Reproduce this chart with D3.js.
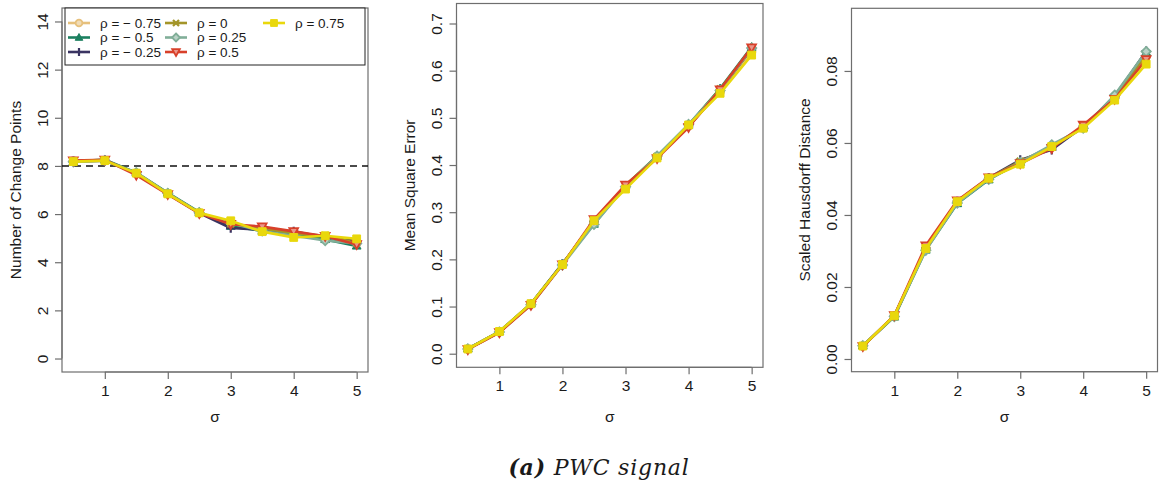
<!DOCTYPE html>
<html>
<head>
<meta charset="utf-8">
<script src="https://cdn.jsdelivr.net/npm/d3@7"></script>
<style>
  html, body { margin: 0; padding: 0; background: #fff; }
  svg { display: block; }
  text { font-family: "Liberation Sans", Arial, sans-serif; fill: #1a1a1a; }
</style>
</head>
<body>
<svg id="chart" width="1161" height="484"></svg>
<script>
// noise levels on the x axis
const sigma = [0.5, 1, 1.5, 2, 2.5, 3, 3.5, 4, 4.5, 5];

// correlation settings, one series each
const rhoLabels = ["ρ = − 0.75", "ρ = − 0.5", "ρ = − 0.25", "ρ = 0", "ρ = 0.25", "ρ = 0.5", "ρ = 0.75"];
const rhoColors = ["#E6C07C", "#1C8060", "#3A3462", "#A39529", "#80AE98", "#D8402A", "#E9D80C"];
const rhoShapes = ["circle", "triangle", "plus", "cross", "diamond", "triangleDown", "square"];

// number of detected change points (true count = 8)
const changePoints = [
  [8.20, 8.23, 7.70, 6.85, 6.05, 5.55, 5.35, 5.15, 5.05, 4.85],
  [8.18, 8.26, 7.72, 6.88, 6.08, 5.50, 5.30, 5.22, 4.95, 4.68],
  [8.19, 8.22, 7.68, 6.84, 6.04, 5.42, 5.35, 5.28, 5.05, 4.88],
  [8.20, 8.24, 7.70, 6.86, 6.05, 5.60, 5.40, 5.20, 5.10, 4.80],
  [8.17, 8.22, 7.72, 6.86, 6.06, 5.62, 5.30, 5.10, 4.90, 4.78],
  [8.22, 8.25, 7.62, 6.82, 6.03, 5.58, 5.48, 5.28, 5.08, 4.74],
  [8.18, 8.22, 7.70, 6.84, 6.05, 5.72, 5.27, 5.03, 5.10, 4.97]
];
const trueChangePoints = 8;

// mean square error
const meanSquareError = [
  [0.010, 0.046, 0.105, 0.189, 0.280, 0.352, 0.416, 0.483, 0.555, 0.640],
  [0.011, 0.047, 0.106, 0.191, 0.275, 0.356, 0.419, 0.485, 0.562, 0.650],
  [0.010, 0.046, 0.105, 0.190, 0.280, 0.355, 0.417, 0.482, 0.558, 0.647],
  [0.010, 0.047, 0.106, 0.190, 0.282, 0.357, 0.418, 0.484, 0.561, 0.646],
  [0.010, 0.046, 0.104, 0.188, 0.274, 0.354, 0.419, 0.486, 0.558, 0.648],
  [0.009, 0.045, 0.103, 0.189, 0.285, 0.358, 0.414, 0.480, 0.560, 0.649],
  [0.010, 0.047, 0.106, 0.189, 0.282, 0.349, 0.415, 0.485, 0.552, 0.633]
];

// scaled Hausdorff distance
const hausdorff = [
  [0.0036, 0.0119, 0.0306, 0.0436, 0.0502, 0.0545, 0.0588, 0.0642, 0.0725, 0.0840],
  [0.0037, 0.0117, 0.0303, 0.0432, 0.0498, 0.0547, 0.0592, 0.0643, 0.0731, 0.0852],
  [0.0036, 0.0120, 0.0308, 0.0438, 0.0503, 0.0553, 0.0581, 0.0646, 0.0728, 0.0855],
  [0.0036, 0.0119, 0.0307, 0.0437, 0.0502, 0.0549, 0.0590, 0.0644, 0.0727, 0.0845],
  [0.0037, 0.0118, 0.0302, 0.0433, 0.0499, 0.0546, 0.0595, 0.0641, 0.0733, 0.0854],
  [0.0035, 0.0121, 0.0315, 0.0440, 0.0504, 0.0543, 0.0585, 0.0650, 0.0722, 0.0832],
  [0.0036, 0.0120, 0.0307, 0.0437, 0.0502, 0.0541, 0.0590, 0.0641, 0.0719, 0.0819]
];

// tick values
const xTicks = [1, 2, 3, 4, 5];
const cpTicks = [0, 2, 4, 6, 8, 10, 12, 14];
const mseTicks = [0, 0.1, 0.2, 0.3, 0.4, 0.5, 0.6, 0.7];
const hdTicks = [0, 0.02, 0.04, 0.06, 0.08];

const svg = d3.select("#chart");
const boxColor = "#6e6e6e";
const sans = "Liberation Sans, Arial, sans-serif";

const panels = [
  { data: changePoints, yLabel: "Number of Change Points", yTicks: cpTicks, fmt: d3.format("d"),
    box: { l: 62, r: 368, t: 8, b: 372 }, yDomain: [-0.56, 14.56], refLine: trueChangePoints, legend: true },
  { data: meanSquareError, yLabel: "Mean Square Error", yTicks: mseTicks, fmt: d3.format(".1f"),
    box: { l: 456.5, r: 763, t: 3.5, b: 367.3 }, yDomain: [-0.0288, 0.7424] },
  { data: hausdorff, yLabel: "Scaled Hausdorff Distance", yTicks: hdTicks, fmt: d3.format(".2f"),
    box: { l: 851.5, r: 1157.5, t: 8.3, b: 371.7 }, yDomain: [-0.00353, 0.0974] }
];

function markerPath(shape, s) {
  switch (shape) {
    case "triangle": return `M0,${-s}L${s * 0.95},${s * 0.7}L${-s * 0.95},${s * 0.7}Z`;
    case "triangleDown": return `M0,${s}L${s * 0.95},${-s * 0.7}L${-s * 0.95},${-s * 0.7}Z`;
    case "diamond": return `M0,${-s}L${s},0L0,${s}L${-s},0Z`;
    case "square": { const h = s * 0.85; return `M${-h},${-h}H${h}V${h}H${-h}Z`; }
    case "plus": return `M${-s},0H${s}M0,${-s}V${s}`;
    case "cross": { const h = s * 0.75; return `M${-h},${-h}L${h},${h}M${h},${-h}L${-h},${h}`; }
    default: return d3.symbol(d3.symbolCircle, Math.PI * s * s * 0.7)();
  }
}

function drawMarker(g, shape, color, x, y, s) {
  const p = g.append("path").attr("d", markerPath(shape, s))
    .attr("transform", `translate(${x},${y})`);
  if (shape === "plus" || shape === "cross") {
    p.attr("fill", "none").attr("stroke", color).attr("stroke-width", 2.2);
  } else if (shape === "circle" || shape === "diamond" || shape === "triangleDown") {
    p.attr("fill", d3.interpolateRgb(color, "#ffffff")(0.45)).attr("stroke", color).attr("stroke-width", 1.8);
  } else {
    p.attr("fill", color).attr("stroke", color).attr("stroke-width", 1);
  }
}

panels.forEach(pn => {
  const { box } = pn;
  const x = d3.scaleLinear().domain([0.32, 5.18]).range([box.l, box.r]);
  const y = d3.scaleLinear().domain(pn.yDomain).range([box.b, box.t]);
  const g = svg.append("g");

  // plot frame
  g.append("rect").attr("x", box.l).attr("y", box.t)
    .attr("width", box.r - box.l).attr("height", box.b - box.t)
    .attr("fill", "none").attr("stroke", boxColor).attr("stroke-width", 1.2);

  // x axis
  const xa = g.append("g").attr("transform", `translate(0,${box.b})`)
    .call(d3.axisBottom(x).tickValues(xTicks).tickSize(7).tickSizeOuter(0).tickFormat(d3.format("d")));
  xa.select(".domain").remove();
  xa.append("line").attr("x1", x(xTicks[0])).attr("x2", x(xTicks[xTicks.length - 1]))
    .attr("stroke", boxColor).attr("stroke-width", 1.2);
  xa.selectAll(".tick line").attr("stroke", boxColor).attr("stroke-width", 1.2);
  xa.selectAll(".tick text").attr("y", 13).attr("dy", "0.71em")
    .style("font-size", "15.5px").style("font-family", sans).attr("fill", "#1a1a1a");

  // y axis with vertical labels
  const ya = g.append("g").attr("transform", `translate(${box.l},0)`)
    .call(d3.axisLeft(y).tickValues(pn.yTicks).tickSize(7).tickSizeOuter(0).tickFormat(pn.fmt));
  ya.select(".domain").remove();
  ya.append("line").attr("y1", y(pn.yTicks[0])).attr("y2", y(pn.yTicks[pn.yTicks.length - 1]))
    .attr("stroke", boxColor).attr("stroke-width", 1.2);
  ya.selectAll(".tick line").attr("stroke", boxColor).attr("stroke-width", 1.2);
  ya.selectAll(".tick text").attr("x", null).attr("dy", null)
    .attr("transform", "translate(-20,0) rotate(-90)")
    .attr("text-anchor", "middle").attr("dominant-baseline", "central")
    .style("font-size", "15.5px").style("font-family", sans).attr("fill", "#1a1a1a");

  // axis titles
  g.append("text").attr("x", (box.l + box.r) / 2).attr("y", 416)
    .attr("text-anchor", "middle").attr("dominant-baseline", "central")
    .style("font-size", "15.5px").text("σ");
  g.append("text")
    .attr("transform", `translate(${box.l - 47},${(box.t + box.b) / 2}) rotate(-90)`)
    .attr("text-anchor", "middle").attr("dominant-baseline", "central")
    .style("font-size", "15.5px").text(pn.yLabel);

  // reference line
  if (pn.refLine !== undefined) {
    g.append("line").attr("x1", box.l).attr("x2", box.r)
      .attr("y1", y(pn.refLine)).attr("y2", y(pn.refLine))
      .attr("stroke", "#111").attr("stroke-width", 1.6).attr("stroke-dasharray", "7,5");
  }

  // series
  const line = d3.line().x((d, i) => x(sigma[i])).y(d => y(d));
  pn.data.forEach((vals, k) => {
    const sg = g.append("g");
    sg.append("path").attr("d", line(vals)).attr("fill", "none")
      .attr("stroke", rhoColors[k]).attr("stroke-width", 2.6).attr("stroke-linejoin", "round");
    vals.forEach((v, i) => drawMarker(sg, rhoShapes[k], rhoColors[k], x(sigma[i]), y(v), 4.6));
  });

  // legend
  if (pn.legend) {
    const lg = g.append("g");
    lg.append("rect").attr("x", 65).attr("y", 8).attr("width", 300).attr("height", 57)
      .attr("fill", "#fff").attr("stroke", "#222").attr("stroke-width", 1);
    const colX = [68, 165, 263];
    const rowY = [23, 37.5, 52];
    rhoLabels.forEach((lab, k) => {
      const c = Math.floor(k / 3), r = k % 3;
      const lx = colX[c], ly = rowY[r];
      lg.append("line").attr("x1", lx).attr("x2", lx + 22).attr("y1", ly).attr("y2", ly)
        .attr("stroke", rhoColors[k]).attr("stroke-width", 2.6);
      drawMarker(lg, rhoShapes[k], rhoColors[k], lx + 11, ly, 4);
      lg.append("text").attr("x", lx + 32).attr("y", ly).attr("dominant-baseline", "central")
        .style("font-size", "13.5px").text(lab);
    });
  }
});

// caption
const cap = svg.append("text").attr("x", 599).attr("y", 475).attr("text-anchor", "middle")
  .style("font-family", "'DejaVu Serif', 'Liberation Serif', serif").style("font-size", "22px")
  .style("letter-spacing", "0.8px").style("font-style", "italic");
cap.append("tspan").style("font-weight", "bold").text("(a)");
cap.append("tspan").text(" PWC signal");
</script>
</body>
</html>
